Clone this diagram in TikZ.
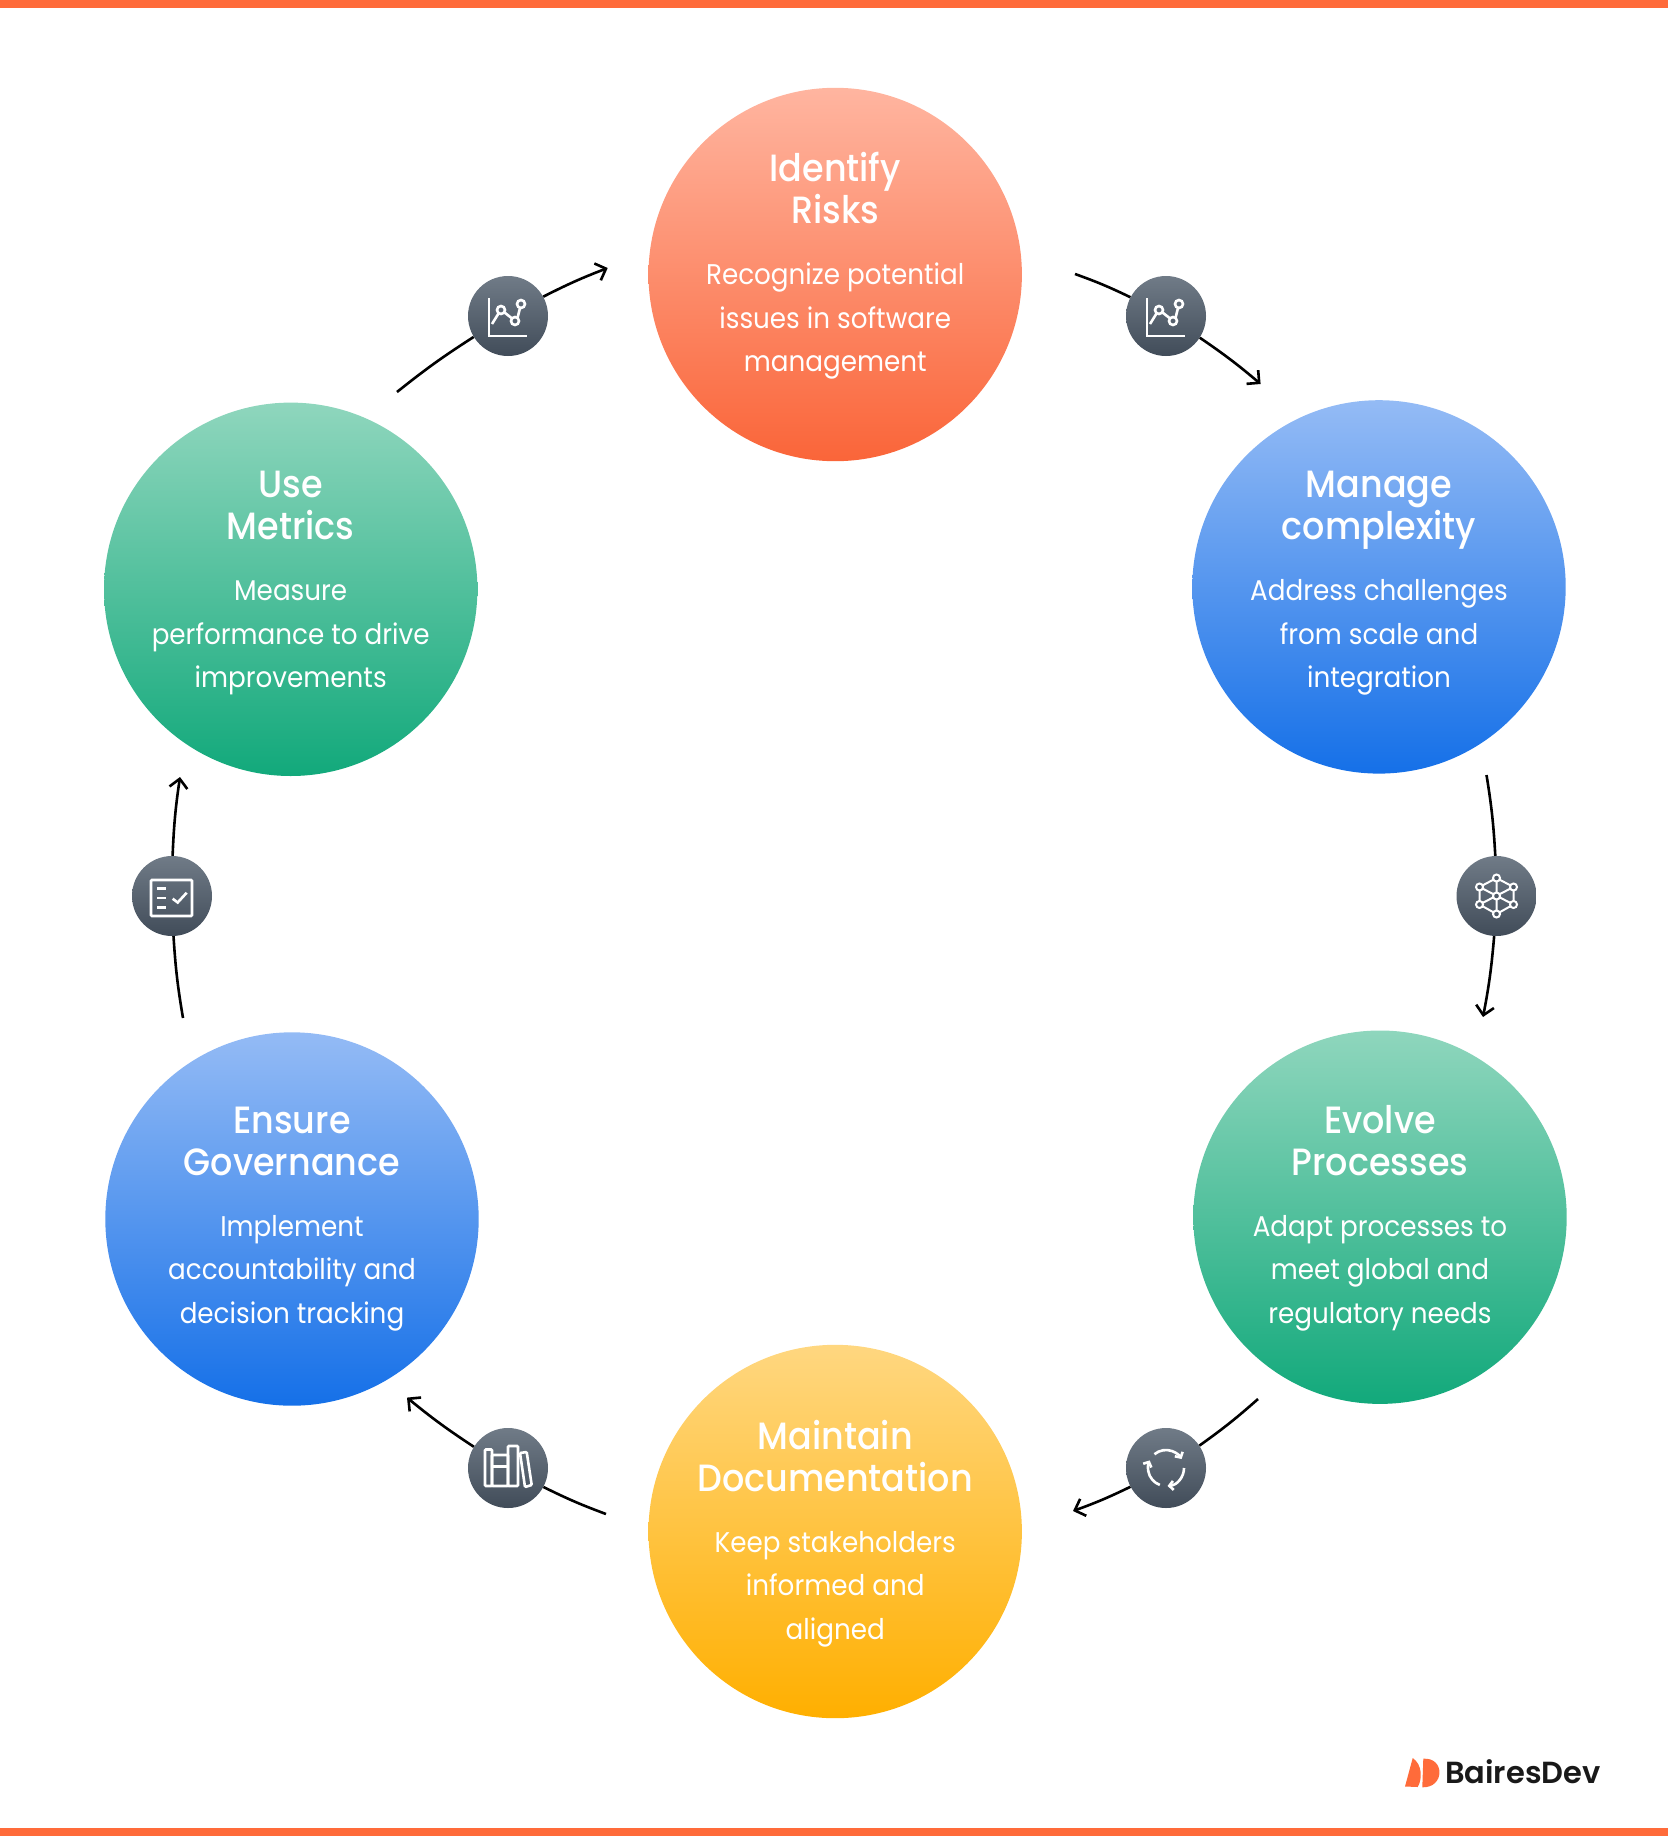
\documentclass[tikz,border=0pt]{standalone}
\usepackage{fontspec}
\setmainfont{Lato}
\newfontfamily\logofont{Poppins SemiBold}
\newfontfamily\headfont{Poppins Medium}[FakeStretch=0.92]
\newfontfamily\bodyfont{Poppins}[FakeStretch=0.92]
\usetikzlibrary{arrows.meta}
\definecolor{barorange}{HTML}{FF6B3A}
\definecolor{redtop}{HTML}{FFB5A0}
\definecolor{redbot}{HTML}{FA6539}
\definecolor{bluetop}{HTML}{94BBF5}
\definecolor{bluebot}{HTML}{1570E8}
\definecolor{greentop}{HTML}{8FD6BD}
\definecolor{greenbot}{HTML}{12A97B}
\definecolor{yellowtop}{HTML}{FFD780}
\definecolor{yellowbot}{HTML}{FFAF00}
\definecolor{badgetop}{HTML}{707B87}
\definecolor{badgebot}{HTML}{414C59}
\tikzset{
	stepcircle/.style={circle,minimum size=373.4pt,inner sep=0pt},
	titletext/.style={anchor=base,text=white,align=center,font=\fontsize{38}{42}\headfont},
	bodytext/.style={anchor=base,text=white,align=center,font=\fontsize{28.5}{43.4}\bodyfont},
	badge/.style={circle,minimum size=80pt,inner sep=0pt,top color=badgetop,bottom color=badgebot},
	flow/.style={line width=2.6pt,black},
	flowtip/.style={flow,-{Straight Barb[length=9pt,width=18pt,line width=2.6pt]}},
	icon/.style={white,line width=2.6pt},
	chart icon/.pic={
		\draw[icon] (-19,-18) -- (-19,20) -- (19,20);
		\draw[icon] (-16,8) -- (-9.5,-2.5) (-3.5,-3.5) -- (3.5,2) (9.5,2) -- (12,-8);
		\foreach \p in {(-7,-6),(7,5),(13,-12)}
			\draw[icon] \p circle (4);
	},
	network icon/.pic={
		\draw[icon,line width=2pt] (0,-18) -- (17,-9) -- (17,8.5) -- (0,18) -- (-17,8.5) -- (-17,-9) -- cycle;
		\draw[icon,line width=2pt] (0,-18) -- (0,18) (-17,-9) -- (17,8.5) (-17,8.5) -- (17,-9);
		\foreach \p in {(0,-18),(17,-9),(17,8.5),(0,18),(-17,8.5),(-17,-9),(0,0)}
			\draw[icon,line width=2pt,fill=badgebot!70!badgetop] \p circle (3.5);
	},
	cycle icon/.pic={
		\draw[icon,-{Straight Barb[length=4pt,width=9pt]}] (-130:18) arc[start angle=-130,end angle=-30,radius=18];
		\draw[icon,-{Straight Barb[length=4pt,width=9pt]}] (0:18) arc[start angle=0,end angle=85,radius=18];
		\draw[icon,-{Straight Barb[length=4pt,width=9pt]}] (110:18) arc[start angle=110,end angle=205,radius=18];
	},
	books icon/.pic={
		\draw[icon,rounded corners=1pt] (-23,-18.5) rectangle (-16,18);
		\draw[icon,rounded corners=1pt] (-16,-13) rectangle (0,18);
		\draw[icon] (-16,-1.5) -- (0,-1.5);
		\draw[icon,rounded corners=1pt] (0,-22) rectangle (10,18);
		\draw[icon,rounded corners=1pt] (12,-15) -- (18.7,-16) -- (23.7,17) -- (17,19) -- cycle;
	},
	check icon/.pic={
		\draw[icon,rounded corners=1pt] (-21,-16) rectangle (20,20);
		\draw[icon] (-15,-7.5) -- (-6,-7.5) (-15,2) -- (-6,2) (-15,11.5) -- (-6,11.5);
		\draw[icon] (0.7,2.7) -- (5.7,6.5) -- (14.7,-3.3);
	},
}
\begin{document}
\begin{tikzpicture}[x=1pt,y=-1pt]
	\useasboundingbox (0,0) rectangle (1668,1836);
	\fill[barorange] (0,0) rectangle (1668,8);
	\fill[barorange] (0,1828) rectangle (1668,1836);
	% circles
	\node[stepcircle,top color=redtop,bottom color=redbot] (risks) at (835.2,274.5) {};
	\node[stepcircle,top color=bluetop,bottom color=bluebot] (complexity) at (1379,586.9) {};
	\node[stepcircle,top color=greentop,bottom color=greenbot] (processes) at (1380,1217.2) {};
	\node[stepcircle,top color=yellowtop,bottom color=yellowbot] (documentation) at (835.2,1531.5) {};
	\node[stepcircle,top color=bluetop,bottom color=bluebot] (governance) at (292,1219) {};
	\node[stepcircle,top color=greentop,bottom color=greenbot] (metrics) at (290.7,589.3) {};
	% circle texts
	\node[titletext] (risksT) at (risks.center |- 0,223.7) {Identify\\Risks};
	\node[bodytext] (risksB) at (risks.center |- 0,371.7) {Recognize potential\\issues in software\\management};
	\node[titletext] (complexityT) at (complexity.center |- 0,539.7) {Manage\\complexity};
	\node[bodytext] (complexityB) at (complexity.center |- 0,687.7) {Address challenges\\from scale and\\integration};
	\node[titletext] (processesT) at (processes.center |- 0,1175.3) {Evolve\\Processes};
	\node[bodytext] (processesB) at (processes.center |- 0,1323.3) {Adapt processes to\\meet global and\\regulatory needs};
	\node[titletext] (documentationT) at (documentation.center |- 0,1491.3) {Maintain\\Documentation};
	\node[bodytext] (documentationB) at (documentation.center |- 0,1639.3) {Keep stakeholders\\informed and\\aligned};
	\node[titletext] (governanceT) at (governance.center |- 0,1175.3) {Ensure\\Governance};
	\node[bodytext] (governanceB) at (governance.center |- 0,1323.3) {Implement\\accountability and\\decision tracking};
	\node[titletext] (metricsT) at (metrics.center |- 0,539.7) {Use\\Metrics};
	\node[bodytext] (metricsB) at (metrics.center |- 0,687.7) {Measure\\performance to drive\\improvements};
	% badges
	\node[badge] (badgeA) at (1166,316) {};
	\node[badge] (badgeB) at (1496.5,896) {};
	\node[badge] (badgeC) at (1166,1468) {};
	\node[badge] (badgeD) at (508,1468) {};
	\node[badge] (badgeE) at (172,896) {};
	\node[badge] (badgeF) at (508,316) {};
	% connector ends
	\coordinate (outA) at (1075,274);
	\coordinate (inA) at (1260.6,384);
	\coordinate (outB) at (1486.5,775);
	\coordinate (inB) at (1483,1017);
	\coordinate (outC) at (1258,1399);
	\coordinate (inC) at (1073,1511);
	\coordinate (outD) at (606,1514);
	\coordinate (inD) at (407,1397.6);
	\coordinate (outE) at (183,1018);
	\coordinate (inE) at (180,777);
	\coordinate (outF) at (397,392);
	\coordinate (inF) at (607.7,268);
	% connectors
	\draw[flow] (outA) to[bend left=3] (badgeA);
	\draw[flowtip] (badgeA) to[bend left=3] (inA);
	\draw[flow] (outB) to[bend left=3] (badgeB);
	\draw[flowtip] (badgeB) to[bend left=3] (inB);
	\draw[flow] (outC) to[bend left=3] (badgeC);
	\draw[flowtip] (badgeC) to[bend left=3] (inC);
	\draw[flow] (outD) to[bend left=3] (badgeD);
	\draw[flowtip] (badgeD) to[bend left=3] (inD);
	\draw[flow] (outE) to[bend left=3] (badgeE);
	\draw[flowtip] (badgeE) to[bend left=3] (inE);
	\draw[flow] (outF) to[bend left=3] (badgeF);
	\draw[flowtip] (badgeF) to[bend left=3] (inF);
	% icons
	\pic at (badgeA) {chart icon};
	\pic at (badgeB) {network icon};
	\pic at (badgeC) {cycle icon};
	\pic at (badgeD) {books icon};
	\pic at (badgeE) {check icon};
	\pic at (badgeF) {chart icon};
	% logo
	\fill[barorange] (1412.7,1758) .. controls (1423,1765) and (1422,1780) .. (1417.7,1787) -- (1405,1786.5) -- cycle;
	\fill[barorange] (1423.3,1758.7) .. controls (1445,1757) and (1445,1788) .. (1422.3,1787.3) -- cycle;
	\node[anchor=base west,inner sep=0pt,font=\fontsize{30.5}{31}\logofont,text=black!90] (logo) at (1445,1783) {BairesDev};
\end{tikzpicture}
\end{document}
